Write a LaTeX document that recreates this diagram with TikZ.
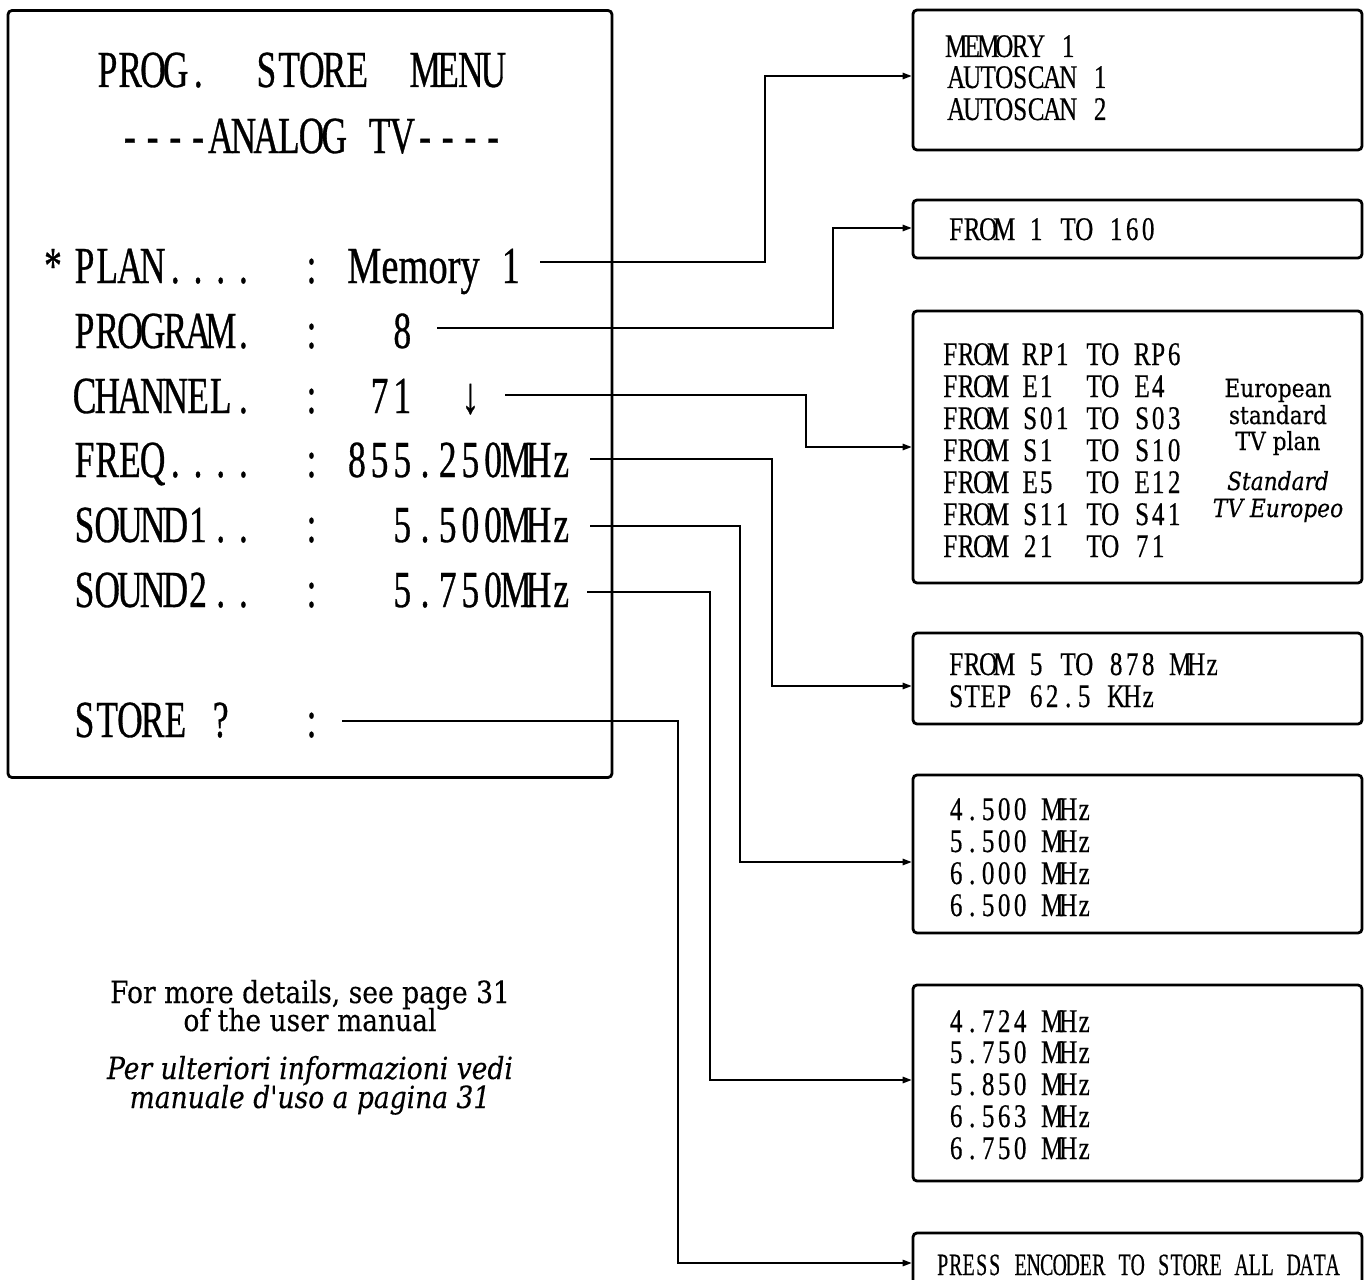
\documentclass[tikz,border=0pt]{standalone}
\usepackage{fontspec}
\usetikzlibrary{arrows.meta}
\newfontfamily\lcdbig[FakeStretch=0.68,FakeBold=0.6]{Liberation Serif}
\newfontfamily\lcdword[FakeStretch=0.74,FakeBold=0.6]{Liberation Serif}
\newfontfamily\lcdsmall[FakeStretch=0.76,FakeBold=0.4]{Liberation Serif}
\newfontfamily\lcdnarrow[FakeStretch=0.64,FakeBold=0.4]{Liberation Serif}
\newfontfamily\notefont[FakeStretch=0.87,FakeBold=0.3]{DejaVu Serif}
\makeatletter
\newcommand\lcdadv{22.7pt}
\newcommand\lcdmono[2]{\def\lcdadv{#1}\lcdmono@#2\@nil}
\def\lcdmono@#1{\ifx#1\@nil\else\makebox[\lcdadv][c]{#1}\expandafter\lcdmono@\fi}
\makeatother
\begin{document}
\begin{tikzpicture}[x=1pt,y=-1pt,
  big/.style={font=\lcdbig\fontsize{52}{52}\selectfont,inner sep=0pt,anchor=base west},
  sml/.style={font=\lcdsmall\fontsize{33}{33}\selectfont,inner sep=0pt,anchor=base west},
  nar/.style={font=\lcdnarrow\fontsize{31}{31}\selectfont,inner sep=0pt,anchor=base west},
  note/.style={font=\notefont\fontsize{30.5}{30.5}\selectfont,inner sep=0pt,anchor=base},
  noteit/.style={font=\notefont\itshape\fontsize{30.5}{30.5}\selectfont,inner sep=0pt,anchor=base},
  plan/.style={font=\notefont\fontsize{25}{25}\selectfont,inner sep=0pt,anchor=base},
  planit/.style={font=\notefont\itshape\fontsize{25}{25}\selectfont,inner sep=0pt,anchor=base},
  frame/.style={draw,line width=2.8pt,rounded corners=4pt,inner sep=0pt},
  conn/.style={line width=1.4pt,-{Triangle[length=9pt,width=6.5pt]}}]
\useasboundingbox (0,0) rectangle (1372,1279);

% main menu box
\node[frame,minimum width=604pt,minimum height=767pt] (main) at (310,394) {};
\node[big] (title1) at (96,87) {\lcdmono{22.7pt}{PROG.~~STORE~~MENU}};
\node[big] (title2) at (118.4,153) {\lcdmono{22.7pt}{----ANALOG~TV----}};
\node[big,anchor=base] (star) at (53,283) {*};
\node[big] (row1) at (73,283) {\lcdmono{22.7pt}{PLAN....~~:}};
\node[big,font=\lcdword\fontsize{52}{52}\selectfont] (row1v) at (347,283) {Memory};
\node[big] (row1n) at (499.3,283) {\lcdmono{22.7pt}{1}};
\node[big] (row2) at (73,348) {\lcdmono{22.7pt}{PROGRAM.~~:~~~8}};
\node[big] (row3) at (73,413) {\lcdmono{22.7pt}{CHANNEL.~~:~~71~~↓}};
\node[big] (row4) at (73,477) {\lcdmono{22.7pt}{FREQ....~~:~855.250MHz}};
\node[big] (row5) at (73,542) {\lcdmono{22.7pt}{SOUND1..~~:~~~5.500MHz}};
\node[big] (row6) at (73,607) {\lcdmono{22.7pt}{SOUND2..~~:~~~5.750MHz}};
\node[big] (row7) at (73,737) {\lcdmono{22.7pt}{STORE~?~~~:}};

% right boxes
\node[frame,minimum width=449pt,minimum height=140pt] (b1) at (1137.5,80) {};
\node[frame,minimum width=449pt,minimum height=58pt] (b2) at (1137.5,229) {};
\node[frame,minimum width=449pt,minimum height=272pt] (b3) at (1137.5,447) {};
\node[frame,minimum width=449pt,minimum height=91pt] (b4) at (1137.5,678.5) {};
\node[frame,minimum width=449pt,minimum height=158pt] (b5) at (1137.5,854) {};
\node[frame,minimum width=449pt,minimum height=196pt] (b6) at (1137.5,1083) {};
\node[frame,minimum width=449pt,minimum height=60pt] (b7) at (1137.5,1263) {};

% box 1
\node[sml] (m1) at (948,57) {\lcdmono{16pt}{MEMORY~1}};
\node[sml] (m2) at (948,88) {\lcdmono{16pt}{AUTOSCAN~1}};
\node[sml] (m3) at (948,120) {\lcdmono{16pt}{AUTOSCAN~2}};
% box 2
\node[sml] (p1) at (948,240) {\lcdmono{16pt}{FROM~1~TO~160}};
% box 3
\node[sml] (c1) at (942,365) {\lcdmono{16pt}{FROM~RP1~TO~RP6}};
\node[sml] (c2) at (942,397) {\lcdmono{16pt}{FROM~E1~~TO~E4}};
\node[sml] (c3) at (942,429) {\lcdmono{16pt}{FROM~S01~TO~S03}};
\node[sml] (c4) at (942,461) {\lcdmono{16pt}{FROM~S1~~TO~S10}};
\node[sml] (c5) at (942,493) {\lcdmono{16pt}{FROM~E5~~TO~E12}};
\node[sml] (c6) at (942,525) {\lcdmono{16pt}{FROM~S11~TO~S41}};
\node[sml] (c7) at (942,557) {\lcdmono{16pt}{FROM~21~~TO~71}};
\node[plan] (e1) at (1278,397) {European};
\node[plan] (e2) at (1278,424) {standard};
\node[plan] (e3) at (1278,450) {TV plan};
\node[planit] (e4) at (1278,490) {Standard};
\node[planit] (e5) at (1278,517) {TV Europeo};
% box 4
\node[sml] (f1) at (948,675) {\lcdmono{16pt}{FROM~5~TO~878~MHz}};
\node[sml] (f2) at (948,707) {\lcdmono{16pt}{STEP~62.5~KHz}};
% box 5
\node[sml] (s11) at (948,820) {\lcdmono{16pt}{4.500~MHz}};
\node[sml] (s12) at (948,852) {\lcdmono{16pt}{5.500~MHz}};
\node[sml] (s13) at (948,884) {\lcdmono{16pt}{6.000~MHz}};
\node[sml] (s14) at (948,916) {\lcdmono{16pt}{6.500~MHz}};
% box 6
\node[sml] (s21) at (948,1032) {\lcdmono{16pt}{4.724~MHz}};
\node[sml] (s22) at (948,1063) {\lcdmono{16pt}{5.750~MHz}};
\node[sml] (s23) at (948,1095) {\lcdmono{16pt}{5.850~MHz}};
\node[sml] (s24) at (948,1127) {\lcdmono{16pt}{6.563~MHz}};
\node[sml] (s25) at (948,1159) {\lcdmono{16pt}{6.750~MHz}};
% box 7
\node[nar] (st) at (936,1275) {\lcdmono{13pt}{PRESS~ENCODER~TO~STORE~ALL~DATA}};

% notes
\node[note] (n1) at (310,1003) {For more details, see page 31};
\node[note] (n2) at (310,1031) {of the user manual};
\node[noteit] (n3) at (310,1079) {Per ulteriori informazioni vedi};
\node[noteit] (n4) at (310,1108) {manuale d'uso a pagina 31};

% connectors
\coordinate (s1) at (540,262);
\coordinate (s2) at (437,328);
\coordinate (s3) at (505,395);
\coordinate (s4) at (590,459);
\coordinate (s5) at (590,526);
\coordinate (s6) at (587,592);
\coordinate (s7) at (342,721);
\draw[conn] (s1) -- (765,262) |- ([yshift=4pt]b1.west);
\draw[conn] (s2) -- (833,328) |- ([yshift=1pt]b2.west);
\draw[conn] (s3) -- (806,395) |- (b3.west);
\draw[conn] (s4) -- (772,459) |- ([yshift=-7.5pt]b4.west);
\draw[conn] (s5) -- (740,526) |- ([yshift=-8pt]b5.west);
\draw[conn] (s6) -- (710,592) |- ([yshift=3pt]b6.west);
\draw[conn] (s7) -- (678,721) |- (b7.west);
\end{tikzpicture}
\end{document}
